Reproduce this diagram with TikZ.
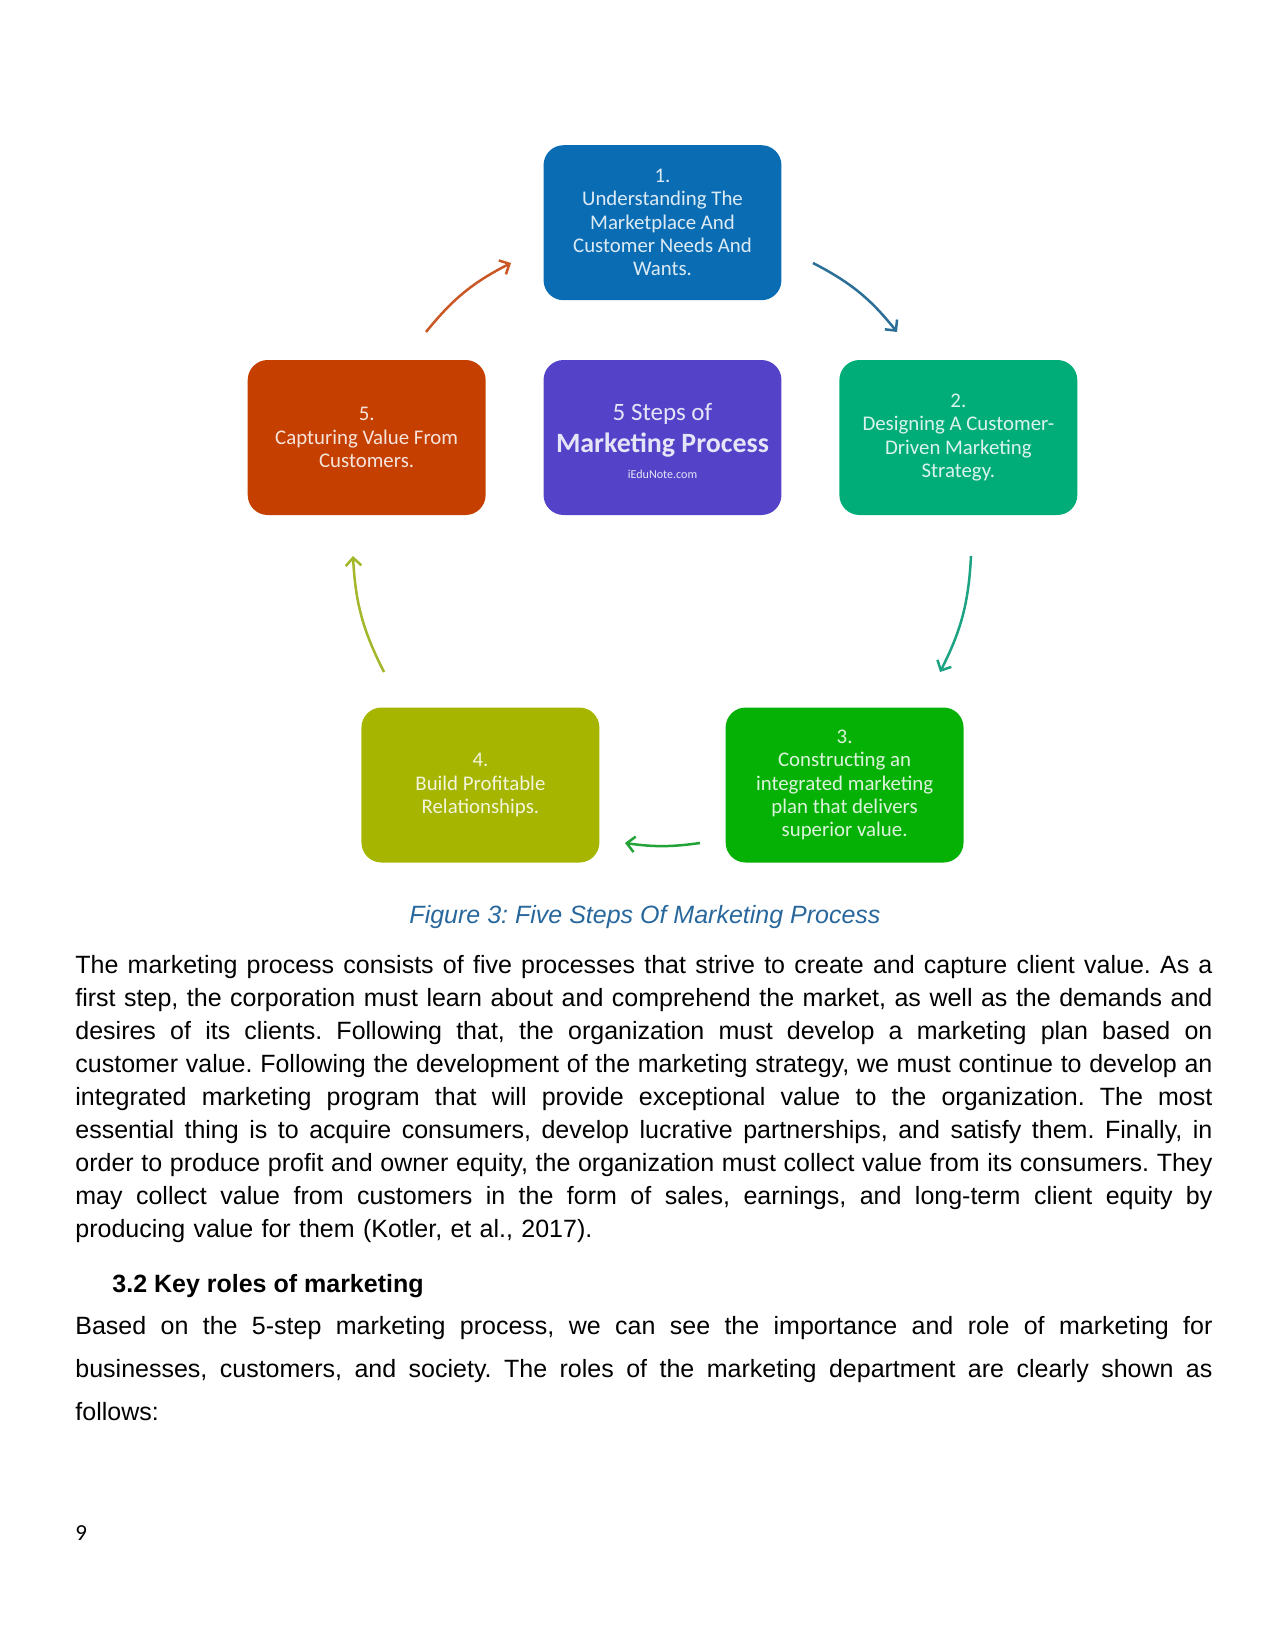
\documentclass[tikz,border=0pt]{standalone}
\usepackage{fontspec}
\setmainfont{Liberation Sans}
\newfontfamily\boxfont{Carlito}
\usepackage{xcolor}
\usetikzlibrary{arrows.meta, positioning}

\definecolor{stepblue}{HTML}{0A6DB4}
\definecolor{steppurple}{HTML}{5443C8}
\definecolor{steporange}{HTML}{C54000}
\definecolor{stepteal}{HTML}{00AD79}
\definecolor{stepgreen}{HTML}{06B106}
\definecolor{stepolive}{HTML}{A6B500}
\definecolor{arrblue}{HTML}{2B6E97}
\definecolor{arrteal}{HTML}{1BA383}
\definecolor{arrgreen}{HTML}{23A337}
\definecolor{arrolive}{HTML}{A4B62A}
\definecolor{arrorange}{HTML}{C95826}
\definecolor{captionblue}{HTML}{28679C}

\frenchspacing
% one justified line of the body text
\newcommand{\fullline}[1]{\leavevmode\hbox to 545.8pt{\spaceskip=\fontdimen2\font plus 1fil minus \fontdimen4\font\relax #1}}

\begin{document}
\begin{tikzpicture}[
  x=0.48pt, y=-0.48pt,
  node distance=28.3pt and 27.4pt,
  stepbox/.style={minimum width=114.2pt, minimum height=74.4pt, rounded corners=9.6pt,
    align=center, inner sep=2pt, text=white, text opacity=0.86,
    font=\boxfont\fontsize{10}{11.2}\selectfont},
  arrow/.style={-{Straight Barb[length=3.8pt,width=7.5pt]}, line width=1.2pt},
  bodytext/.style={anchor=base west, inner sep=0pt, text width=545.8pt, align=left}
]
\useasboundingbox (0,0) rectangle (1275,1651);

% Nodes
\node[stepbox, fill=steppurple, font=\boxfont\fontsize{12}{14.4}\selectfont] (centre) at (662.5,437.5)
  {\rule{0pt}{11.4pt}5 Steps of\\[1pt]{\fontsize{13.4}{14.4}\selectfont\bfseries Marketing Process}\\[-2pt]{\fontsize{5.8}{14.4}\selectfont iEduNote.com}};
\node[stepbox, fill=stepblue, above=of centre] (n1)
  {1.\\Understanding The\\Marketplace And\\Customer Needs And\\Wants.};
\node[stepbox, fill=stepteal, right=of centre] (n2)
  {2.\\Designing A Customer-\\Driven Marketing\\Strategy.};
\node[stepbox, fill=stepgreen, below=92pt of centre, xshift=87.4pt] (n3)
  {3.\\Constructing an\\integrated marketing\\plan that delivers\\superior value.};
\node[stepbox, fill=stepolive, below=92pt of centre, xshift=-87.4pt] (n4)
  {4.\\Build Profitable\\Relationships.};
\node[stepbox, fill=steporange, left=of centre] (n5)
  {5.\\Capturing Value From\\Customers.};

% Pointers
\coordinate (a1s) at (813,263);  \coordinate (a1e) at (897,332);
\coordinate (a2s) at (971,556);  \coordinate (a2e) at (940,672);
\coordinate (a3s) at (700,843);  \coordinate (a3e) at (625,843);
\coordinate (a4s) at (384,672);  \coordinate (a4e) at (353,556);
\coordinate (a5s) at (426,332);  \coordinate (a5e) at (511,263);
\draw[arrow, arrblue] (a1s) to[bend left=12] (a1e);
\draw[arrow, arrteal] (a2s) to[bend left=12] (a2e);
\draw[arrow, arrgreen] (a3s) to[bend left=8] (a3e);
\draw[arrow, arrolive] (a4s) to[bend left=12] (a4e);
\draw[arrow, arrorange] (a5s) to[bend left=12] (a5e);

% Text
\node[anchor=base, text=captionblue, font=\fontsize{12}{14}\selectfont\itshape] (caption) at (645,923)
  {Figure 3: Five Steps Of Marketing Process};
\node[bodytext, font=\fontsize{12}{15.84}\selectfont] (para1) at (75,973) {%
\fullline{The marketing process consists of five processes that strive to create and capture client value. As a}\\
\fullline{first step, the corporation must learn about and comprehend the market, as well as the demands and}\\
\fullline{desires of its clients. Following that, the organization must develop a marketing plan based on}\\
\fullline{customer value. Following the development of the marketing strategy, we must continue to develop an}\\
\fullline{integrated marketing program that will provide exceptional value to the organization. The most}\\
\fullline{essential thing is to acquire consumers, develop lucrative partnerships, and satisfy them. Finally, in}\\
\fullline{order to produce profit and owner equity, the organization must collect value from its consumers. They}\\
\fullline{may collect value from customers in the form of sales, earnings, and long-term client equity by}\\
producing value for them (Kotler, et al., 2017).};
\node[anchor=base west, inner sep=0pt, font=\fontsize{12}{14}\selectfont\bfseries] (heading) at (112,1292)
  {3.2 Key roles of marketing};
\node[bodytext, font=\fontsize{12}{20.64}\selectfont] (para2) at (75,1334) {%
\fullline{Based on the 5-step marketing process, we can see the importance and role of marketing for}\\
\fullline{businesses, customers, and society. The roles of the marketing department are clearly shown as}\\
follows:};
\node[anchor=base west, inner sep=0pt, font=\boxfont\fontsize{11}{13}\selectfont] (pagenum) at (75,1540) {9};
\end{tikzpicture}
\end{document}
